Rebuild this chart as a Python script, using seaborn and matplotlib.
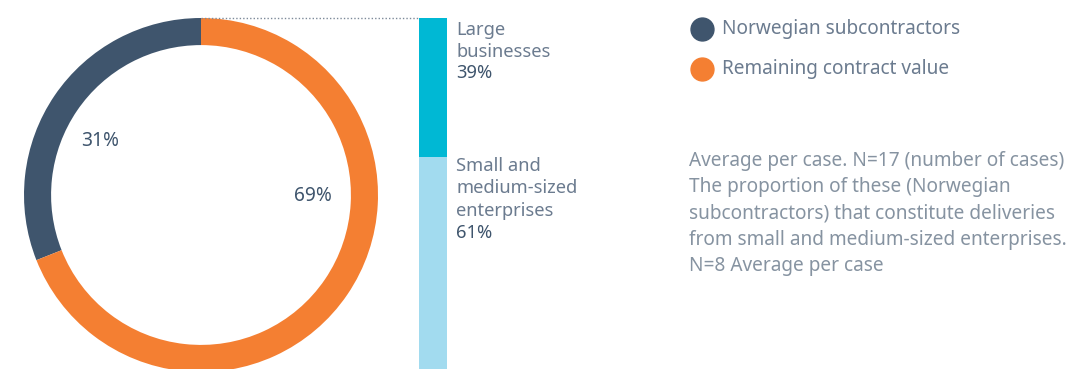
import matplotlib
matplotlib.use("Agg")
import matplotlib.pyplot as plt
from matplotlib.lines import Line2D
import numpy as np
import pandas as pd
import seaborn as sns

# ---------------- data ----------------
donut_labels = ["Norwegian subcontractors", "Remaining contract value"]
donut_values = [31, 69]
bar_labels = ["Large\nbusinesses", "Small and\nmedium-sized\nenterprises"]
bar_values = [39, 61]
note_lines = [
    "Average per case. N=17 (number of cases)",
    "The proportion of these (Norwegian",
    "subcontractors) that constitute deliveries",
    "from small and medium-sized enterprises.",
    "N=8 Average per case",
]

# ---------------- style ----------------
sns.set_theme(style="white")
FONT = ["Noto Sans", "DejaVu Sans"]
plt.rcParams["font.family"] = FONT

C_DARK = "#3f556d"
C_ORANGE = "#f47f32"
C_CYAN = "#00b8d4"
C_LIGHT = "#a2dbef"
C_TXT = "#6b7b8f"
C_NOTE = "#8693a1"

W, H = 1075, 369
fig = plt.figure(figsize=(W / 100, H / 100), dpi=100)


def fx(x):
    return x / W


def fy(y):
    return 1 - y / H


def px_axes(left, top, right, bottom):
    return fig.add_axes([fx(left), fy(bottom), (right - left) / W, (bottom - top) / H])


# ---------------- donut ----------------
ax_d = px_axes(24, 18, 378, 372)
ax_d.pie(donut_values, colors=[C_DARK, C_ORANGE], startangle=90, counterclock=True,
         radius=1, wedgeprops=dict(width=0.153, edgecolor="none", linewidth=0))
ax_d.set_xlim(-1, 1)
ax_d.set_ylim(-1, 1)
ax_d.set_aspect("equal")
ax_d.axis("off")
ax_d.text(-0.57, 0.305, f"{donut_values[0]}%", ha="center", va="center",
          fontsize=13.8, color=C_DARK)
ax_d.text(0.63, -0.005, f"{donut_values[1]}%", ha="center", va="center",
          fontsize=13.8, color=C_DARK)

# ---------------- stacked bar ----------------
ax_b = px_axes(419, 18, 447, 374)
cum = np.cumsum(bar_values)
df_full = pd.DataFrame({"g": ["s"], "v": [cum[-1]]})
df_top = pd.DataFrame({"g": ["s"], "v": [cum[0]]})
sns.barplot(data=df_full, x="g", y="v", color=C_LIGHT, width=1, saturation=1,
            linewidth=0, edgecolor="none", ax=ax_b)
sns.barplot(data=df_top, x="g", y="v", color=C_CYAN, width=1, saturation=1,
            linewidth=0, edgecolor="none", ax=ax_b)
ax_b.set_xlim(-0.5, 0.5)
ax_b.set_ylim(cum[-1], 0)
ax_b.axis("off")

# dotted connector
fig.add_artist(Line2D([fx(201), fx(419)], [fy(17.5), fy(17.5)], transform=fig.transFigure,
                      color="#7d8a99", lw=1, linestyle=(0, (1, 1.5))))

# bar labels
def lines_at(x, y0, step, lines, colors, size):
    for i, (t, c) in enumerate(zip(lines, colors)):
        fig.text(fx(x), fy(y0 + i * step), t, ha="left", va="center",
                 fontsize=size, color=c)

l1 = bar_labels[0].split("\n") + [f"{bar_values[0]}%"]
lines_at(456, 30, 21.7, l1, [C_TXT] * (len(l1) - 1) + [C_DARK], 13.2)
l2 = bar_labels[1].split("\n") + [f"{bar_values[1]}%"]
lines_at(456, 166, 22.5, l2, [C_TXT] * (len(l2) - 1) + [C_DARK], 13.2)

# ---------------- legend ----------------
for i, (lab, col) in enumerate(zip(donut_labels, [C_DARK, C_ORANGE])):
    y = 29 + i * 40
    fig.add_artist(Line2D([fx(702)], [fy(y)], marker="o", markersize=16.5,
                          color=col, transform=fig.transFigure, lw=0))
    fig.text(fx(722), fy(y), lab, ha="left", va="center", fontsize=13.7, color=C_TXT)

# ---------------- note ----------------
for i, t in enumerate(note_lines):
    fig.text(fx(689), fy(161 + i * 26.3), t, ha="left", va="center",
             fontsize=13.7, color=C_NOTE)

fig.savefig("out.png", dpi=100, facecolor="white")
